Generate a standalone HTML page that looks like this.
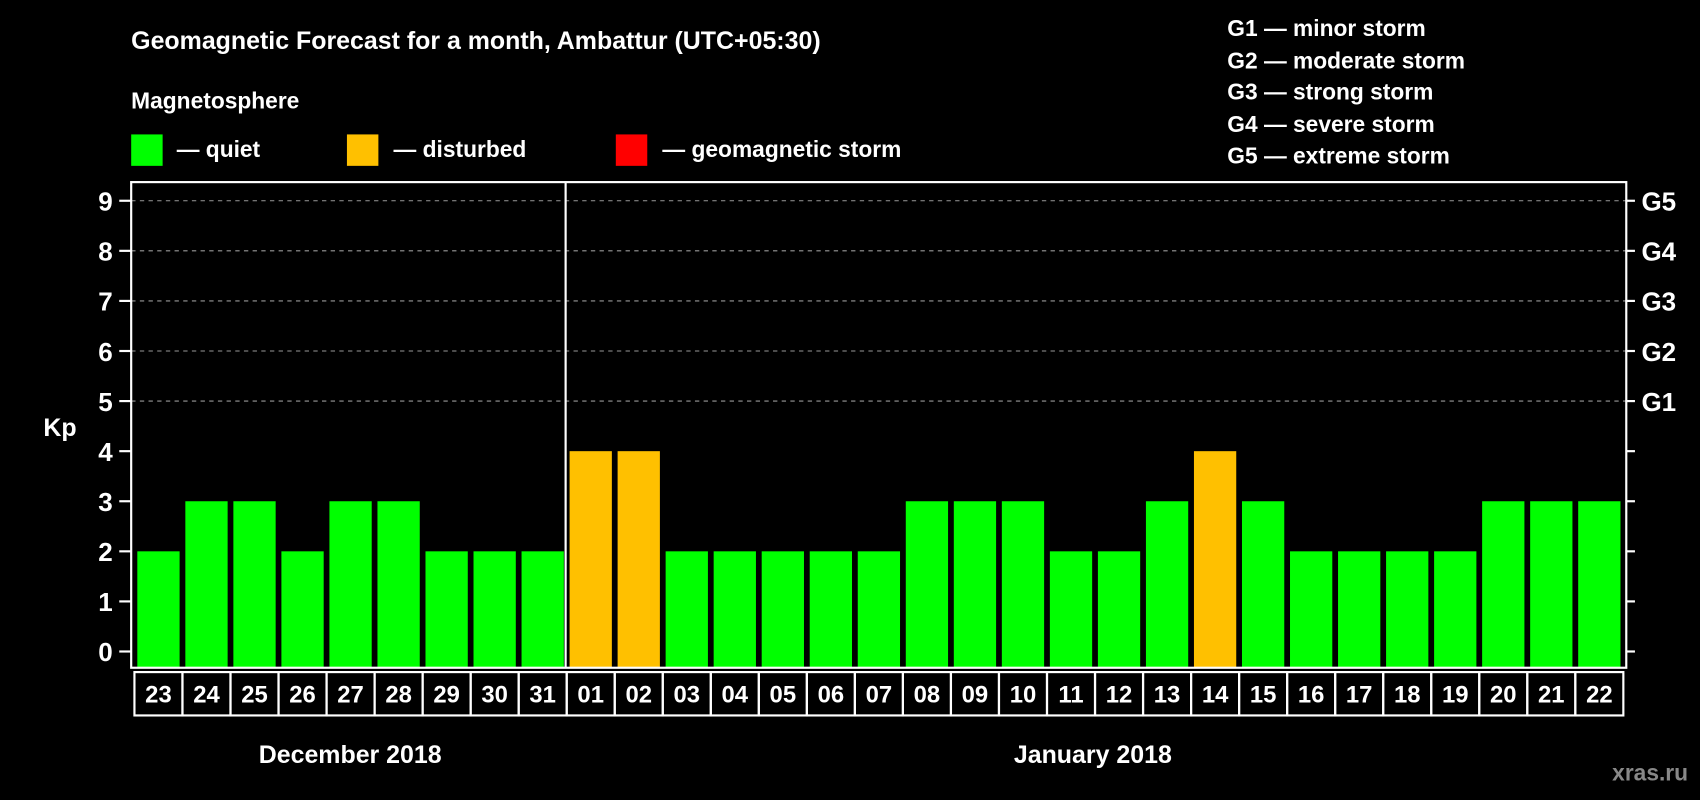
<!DOCTYPE html>
<html><head><meta charset="utf-8"><style>
html,body{margin:0;padding:0;background:#000;}
svg{display:block;font-family:"Liberation Sans",Arial,sans-serif;font-weight:bold;}
</style></head><body>
<svg id="chart" width="1700" height="800" viewBox="0 0 1568 738" preserveAspectRatio="none" xmlns="http://www.w3.org/2000/svg">
<rect width="1568" height="738" fill="#000"/>
<text x="121" y="45" fill="#fff" font-size="23">Geomagnetic Forecast for a month, Ambattur (UTC+05:30)</text>
<text x="121" y="100" fill="#fff" font-size="21">Magnetosphere</text>
<g><rect x="121" y="124" width="29" height="29" fill="#00ff00"/><text x="163" y="145" fill="#fff" font-size="21">— quiet</text></g>
<g><rect x="320" y="124" width="29" height="29" fill="#ffc000"/><text x="363" y="145" fill="#fff" font-size="21">— disturbed</text></g>
<g><rect x="568" y="124" width="29" height="29" fill="#ff0000"/><text x="611" y="145" fill="#fff" font-size="21">— geomagnetic storm</text></g>
<g fill="#fff" font-size="21">
<text x="1132" y="33">G1 — minor storm</text>
<text x="1132" y="63">G2 — moderate storm</text>
<text x="1132" y="92">G3 — strong storm</text>
<text x="1132" y="122">G4 — severe storm</text>
<text x="1132" y="151">G5 — extreme storm</text>
</g>
<text x="40" y="402" fill="#fff" font-size="23">Kp</text>
<g id="grid"></g>
<g id="bars"></g>
<rect x="121" y="168" width="1379" height="448" fill="none" stroke="#fff" stroke-width="2"/>
<g id="axes"></g>
<g id="dates"></g>
<text x="323" y="704" fill="#fff" font-size="23" text-anchor="middle">December 2018</text>
<text x="1008" y="704" fill="#fff" font-size="23" text-anchor="middle">January 2018</text>
<text x="1557" y="720" fill="#888" font-size="21" text-anchor="end">xras.ru</text>
</svg>
<script>
const days = ["23","24","25","26","27","28","29","30","31","01","02","03","04","05","06","07","08","09","10","11","12","13","14","15","16","17","18","19","20","21","22"];
const kpValues = [2,3,3,2,3,3,2,2,2,4,4,2,2,2,2,2,3,3,3,2,2,3,4,3,2,2,2,2,3,3,3];
const yTicks = [0,1,2,3,4,5,6,7,8,9];
const gLabels = ["G1","G2","G3","G4","G5"];
const gLevels = [5,6,7,8,9];

const NS="http://www.w3.org/2000/svg";
const x0=124, step=44.3, barW=39;
const y = v => 601 - 46.2*v;
const xc = i => x0 + step*i + step/2;
function mk(tag, attrs, parent){const e=document.createElementNS(NS,tag);for(const k in attrs)e.setAttribute(k,attrs[k]);parent.appendChild(e);return e;}
const grid=document.getElementById('grid'), bars=document.getElementById('bars'), axes=document.getElementById('axes'), dates=document.getElementById('dates');
gLevels.forEach(v=>{
  const l=mk('line',{x1:121,x2:1500,y1:y(v),y2:y(v),stroke:'#999','stroke-dasharray':'4,4','stroke-width':1},grid);
  
  
});
kpValues.forEach((v,i)=>{
  const c = v>=5?'#ff0000':(v>=4?'#ffc000':'#00ff00');
  const r=mk('rect',{x:xc(i)-barW/2,y:y(v),width:barW,height:616-y(v),fill:c},bars);
  
  
});
yTicks.forEach(v=>{
  mk('line',{x1:110,x2:121,y1:y(v),y2:y(v),stroke:'#fff','stroke-width':2},axes);
  mk('line',{x1:1500,x2:1508,y1:y(v),y2:y(v),stroke:'#fff','stroke-width':2},axes);
  const t=mk('text',{x:104,y:y(v)+9,fill:'#fff','font-size':24,'text-anchor':'end'},axes);
  t.textContent=v;
  
  
});
gLevels.forEach((v,i)=>{
  const t=mk('text',{x:1514,y:y(v)+9,fill:'#fff','font-size':24},axes);
  t.textContent=gLabels[i];
  
  
});
const sep=mk('line',{x1:x0+step*9-1,x2:x0+step*9-1,y1:168,y2:616,stroke:'#fff','stroke-width':2},axes);


days.forEach((d,i)=>{
  const bx=x0+step*i;
  mk('rect',{x:bx,y:620,width:step,height:40,fill:'none',stroke:'#fff','stroke-width':2},dates);
  const t=mk('text',{x:xc(i),y:648,fill:'#fff','font-size':22,'text-anchor':'middle'},dates);
  t.textContent=d;
  
  
});
</script>
</body></html>
